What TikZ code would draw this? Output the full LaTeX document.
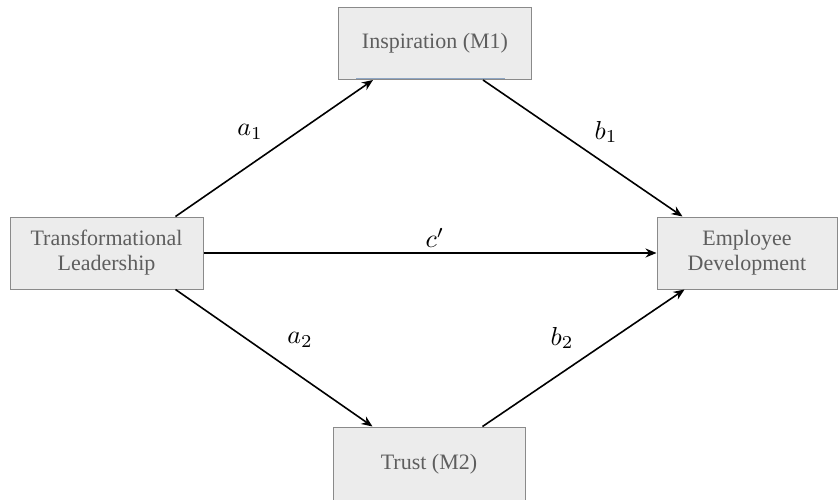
\documentclass[tikz,border=0pt]{standalone}
\usepackage{fontspec}
\setmainfont{Liberation Serif}
\usetikzlibrary{arrows.meta}
\definecolor{boxfill}{HTML}{ECECEC}
\definecolor{boxline}{HTML}{8A8A8A}
\definecolor{boxtext}{HTML}{5E5E5E}
\definecolor{shadeline}{HTML}{8EA6C4}
\tikzset{
  varbox/.style={draw=boxline, fill=boxfill, line width=1pt, inner sep=0pt,
    minimum width=193pt, minimum height=72pt, text=boxtext, align=center,
    font=\fontsize{22}{25}\selectfont},
  path/.style={line width=1.6pt, -{Stealth[length=11pt,width=9pt]}},
  lab/.style={inner sep=0pt}
}
\newcommand{\biglab}[1]{\scalebox{2.6}{$#1$}}
\begin{document}
\begin{tikzpicture}[x=1pt,y=-1pt]
\useasboundingbox (0,0) rectangle (838,499);
\begin{scope}
\clip (0,0) rectangle (838,499);
\node[varbox] (ins) at (435,43.5) {Inspiration (M1)};
\node[varbox] (tl) at (106.5,253) {Transformational\\Leadership};
\node[varbox, minimum width=180pt] (emp) at (747,253) {Employee\\Development};
\node[varbox, minimum width=192pt, minimum height=74pt] (tr) at (429,464) {Trust (M2)};
\end{scope}
\draw[draw=shadeline, line width=1.2pt] ([xshift=18,yshift=1.5]ins.south west) -- ([xshift=-27,yshift=1.5]ins.south east);
\draw[path] ([xshift=-28]tl.north east) -- ([xshift=35]ins.south west);
\draw[path] ([xshift=-49]ins.south east) -- ([xshift=26]emp.north west);
\draw[path] (tl.east) -- (emp.west);
\draw[path] ([xshift=-28]tl.south east) -- ([xshift=40]tr.north west);
\draw[path] ([xshift=-43]tr.north east) -- ([xshift=28]emp.south west);
\node[lab] (la1) at (250,132) {\biglab{a_1}};
\node[lab] (lb1) at (606,132) {\biglab{b_1}};
\node[lab] (lc) at (435,238) {\biglab{c'}};
\node[lab] (la2) at (300,340) {\biglab{a_2}};
\node[lab] (lb2) at (562,338) {\biglab{b_2}};
\end{tikzpicture}
\end{document}
